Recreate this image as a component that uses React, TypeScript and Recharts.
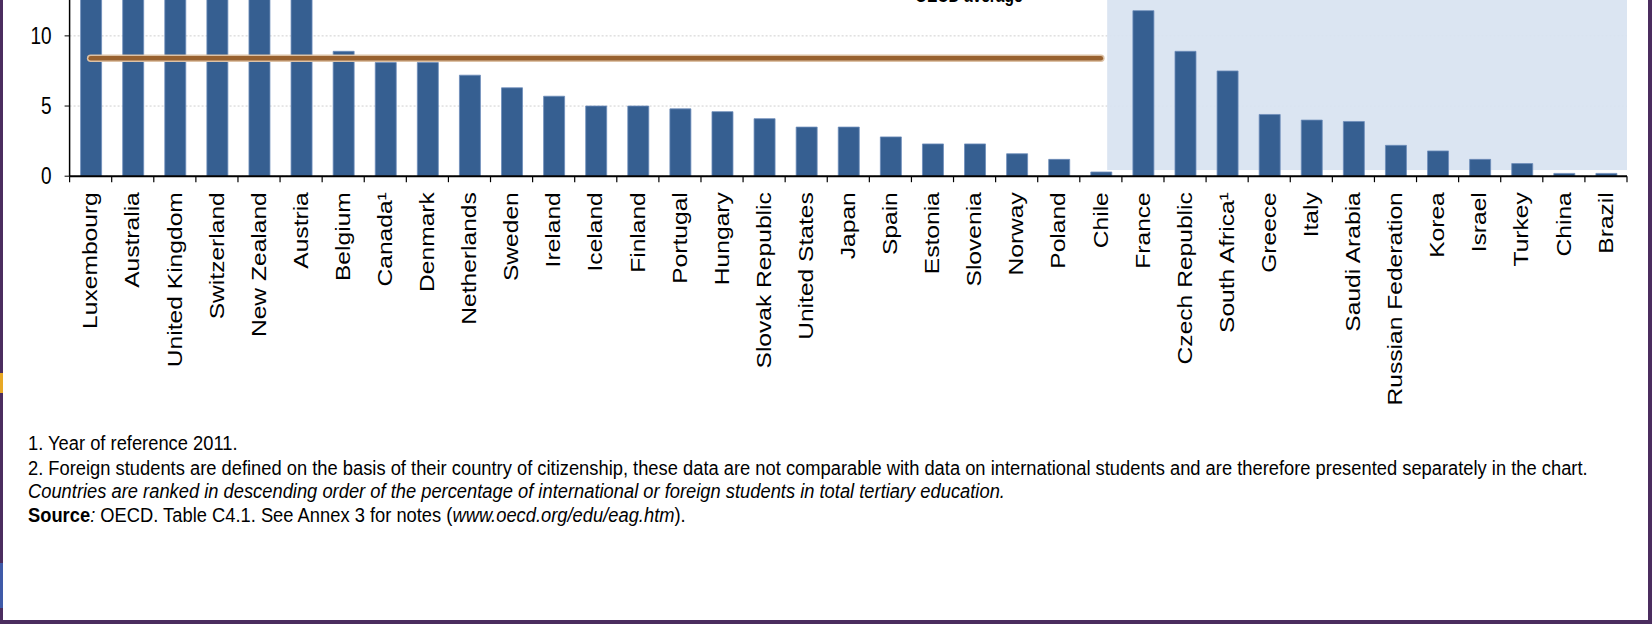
import React from 'react'
import { ComposedChart, Bar, Line, XAxis, YAxis, CartesianGrid, ReferenceArea, ReferenceLine } from 'recharts'

// % of international / foreign students in tertiary enrolment
const countries = [
  'Luxembourg', 'Australia', 'United Kingdom', 'Switzerland', 'New Zealand', 'Austria',
  'Belgium', 'Canada¹', 'Denmark', 'Netherlands', 'Sweden', 'Ireland', 'Iceland', 'Finland',
  'Portugal', 'Hungary', 'Slovak Republic', 'United States', 'Japan', 'Spain', 'Estonia',
  'Slovenia', 'Norway', 'Poland', 'Chile',
  'France', 'Czech Republic', 'South Africa¹', 'Greece', 'Italy', 'Saudi Arabia',
  'Russian Federation', 'Korea', 'Israel', 'Turkey', 'China', 'Brazil',
]
const shares = [
  41.1, 19.8, 16.8, 16.2, 15.6, 15.4,
  8.9, 8.1, 8.1, 7.2, 6.3, 5.7, 5.0, 5.0,
  4.8, 4.6, 4.1, 3.5, 3.5, 2.8, 2.3,
  2.3, 1.6, 1.2, 0.3,
  11.8, 8.9, 7.5, 4.4, 4.0, 3.9,
  2.2, 1.8, 1.2, 0.9, 0.2, 0.2,
]
const oecdAverage = 8.4
const oecdCount = 25 // Luxembourg .. Chile, the rest are foreign students (note 2)
const yTicks = [0, 5, 10]
const yMax = 16
const shadeBottom = 0.44

const data = countries.map((name, i) => ({
  name,
  value: shares[i],
  avg: i < oecdCount ? oecdAverage : null,
}))

const W = 1652
const PLOT_LEFT = 69.6
const PLOT_RIGHT = 1627
const STEP = (PLOT_RIGHT - PLOT_LEFT) / countries.length
const FONT = '"Liberation Sans", Arial, sans-serif'

const XTick = (props: any) => {
  const { x, y, payload, index } = props
  const left = x - STEP / 2
  return (
    <g>
      <line x1={left} x2={left} y1={y} y2={y + 6} stroke="#000" strokeWidth={1.2} />
      {index === countries.length - 1 && (
        <line x1={x + STEP / 2} x2={x + STEP / 2} y1={y} y2={y + 6} stroke="#000" strokeWidth={1.2} />
      )}
      <text
        transform={`translate(${x},${y + 16}) rotate(-90) scale(1.23,1)`}
        textAnchor="end"
        dominantBaseline="central"
        fontSize={20}
        fontFamily={FONT}
        fill="#000"
      >
        {payload.value}
      </text>
    </g>
  )
}

const YTick = (props: any) => {
  const { x, y, payload } = props
  return (
    <text
      transform={`translate(${x},${y}) scale(1,1.25)`}
      textAnchor="end"
      dominantBaseline="central"
      fontSize={19}
      fontFamily={FONT}
      fill="#000"
    >
      {payload.value}
    </text>
  )
}

// shaded partner block starts a bit left of the France band
const ShadeRect = (props: any) => {
  const { x, y, width, height } = props
  const pad = STEP * 0.35
  return <rect x={x - pad} y={y} width={width + pad} height={height} fill="#d8e3f1" fillOpacity={0.92} />
}

const Note = ({ y, children }: any) => (
  <text transform={`translate(28,${y}) scale(0.873,1)`} fontSize={21} fontFamily={FONT} fill="#000">
    {children}
  </text>
)

const App = () => {
  return (
    <div style={{ position: 'fixed', left: 0, top: 0, width: W, height: 624, overflow: 'hidden', background: '#fff' }}>
      <div style={{ position: 'absolute', left: 0, top: -60 }}>
        <ComposedChart
          width={W}
          height={480}
          data={data}
          margin={{ top: 11.7, right: W - PLOT_RIGHT, left: 0, bottom: 3.8 }}
        >
          <ReferenceArea
            x1={countries[oecdCount]}
            x2={countries[countries.length - 1]}
            y1={shadeBottom}
            y2={yMax}
            shape={<ShadeRect />}
            ifOverflow="visible"
          />
          <CartesianGrid vertical={false} stroke="#cfcfcf" strokeDasharray="2 2" />
          <XAxis
            dataKey="name"
            interval={0}
            height={240}
            tickSize={0}
            tickMargin={0}
            tick={<XTick />}
            axisLine={{ stroke: '#000', strokeWidth: 2 }}
            tickLine={false}
          />
          <XAxis xAxisId="n" type="number" domain={[0, countries.length]} hide />
          <YAxis
            width={PLOT_LEFT}
            domain={[0, yMax]}
            ticks={yTicks}
            allowDataOverflow
            tickSize={5}
            tickMargin={13}
            tick={<YTick />}
            axisLine={{ stroke: '#000', strokeWidth: 1.5 }}
            tickLine={{ stroke: '#000' }}
          />
          <ReferenceLine xAxisId="n" x={countries.length} stroke="#8a8a8a" strokeWidth={1.5} />
          <Bar dataKey="value" fill="#365f91" stroke="#6d8dba" strokeWidth={0.8} barSize={21} isAnimationActive={false} />
          <Line dataKey="avg" stroke="#dcc1a5" strokeWidth={7.5} strokeLinecap="round" dot={false} isAnimationActive={false} />
          <Line dataKey="avg" stroke="#98612f" strokeWidth={4.5} strokeLinecap="round" dot={false} isAnimationActive={false} />
        </ComposedChart>
      </div>

      <svg width={W} height={624} style={{ position: 'absolute', left: 0, top: 0, pointerEvents: 'none' }}>
        <text transform="translate(915,1.5) scale(1,1.22)" fontSize={15.5} fontWeight="bold" fontFamily={FONT} fill="#000">
          OECD average
        </text>
        <Note y={450}>1. Year of reference 2011.</Note>
        <Note y={475}>
          2. Foreign students are defined on the basis of their country of citizenship, these data are not comparable with data on international students and are therefore presented separately in the chart.
        </Note>
        <Note y={498}>
          <tspan fontStyle="italic">
            Countries are ranked in descending order of the percentage of international or foreign students in total tertiary education.
          </tspan>
        </Note>
        <Note y={522}>
          <tspan fontWeight="bold">Source</tspan>
          <tspan fontStyle="italic">:</tspan>
          <tspan> OECD. Table C4.1. See Annex 3 for notes (</tspan>
          <tspan fontStyle="italic">www.oecd.org/edu/eag.htm</tspan>
          <tspan>).</tspan>
        </Note>
      </svg>

      {/* slide frame */}
      <div style={{ position: 'absolute', left: 0, top: 0, width: 3, height: 624, background: '#4b2d5f' }} />
      <div style={{ position: 'absolute', left: 0, top: 373, width: 3, height: 20, background: '#e8a825' }} />
      <div style={{ position: 'absolute', left: 0, top: 563, width: 3, height: 45, background: '#3f5aa8' }} />
      <div style={{ position: 'absolute', left: 1648, top: 0, width: 4, height: 624, background: '#4b2d5f' }} />
      <div style={{ position: 'absolute', left: 0, top: 620, width: W, height: 4, background: '#4b2d5f' }} />
    </div>
  )
}

export default App
